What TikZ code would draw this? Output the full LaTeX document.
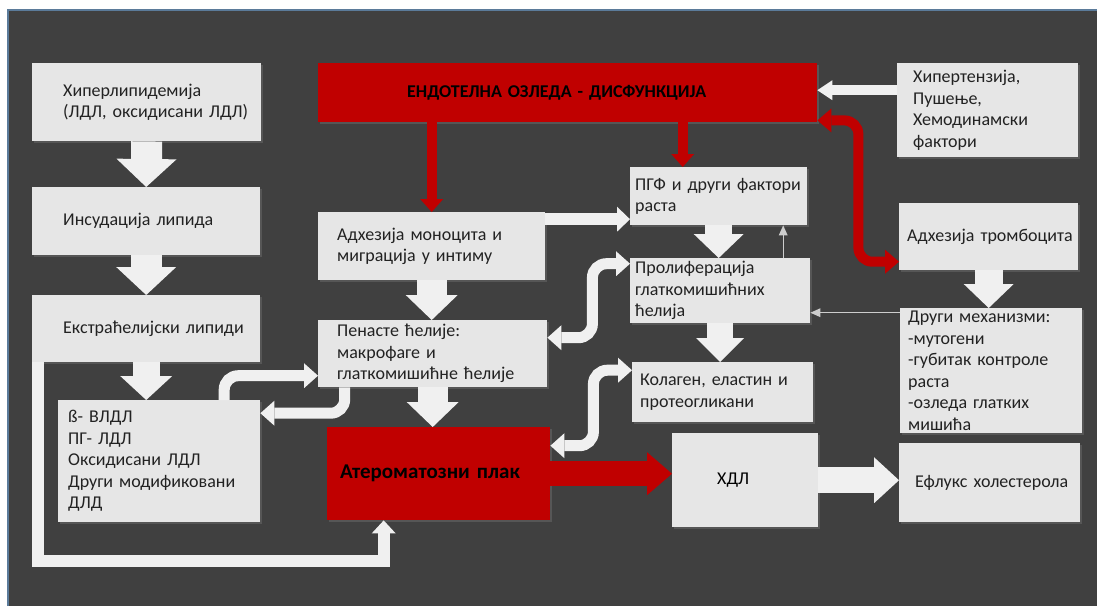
\documentclass[tikz,border=0pt]{standalone}
\usepackage{fontspec}
\setmainfont{Carlito}
\usetikzlibrary{arrows.meta,shadows}

\definecolor{panelgray}{HTML}{404040}
\definecolor{boxgray}{HTML}{E6E6E6}
\definecolor{plaquered}{HTML}{C00000}
\definecolor{pipewhite}{HTML}{F0F0F0}
\definecolor{inkgray}{HTML}{222222}
\definecolor{rimblue}{HTML}{5B7B9A}

\tikzset{
  box/.style={fill=boxgray, text=inkgray, anchor=north west, inner xsep=0pt, inner ysep=0pt,
    align=left, font=\fontsize{18}{21.5}\selectfont,
    drop shadow={shadow xshift=2pt, shadow yshift=-2pt, opacity=.35}},
  redbox/.style={box, fill=plaquered, text=black, font=\fontsize{18}{21.5}\selectfont\bfseries},
  lpad/.style={execute at begin node={\leftskip=#1pt\relax}},
  shaft/.style n args={3}{line width=#1pt, -{Triangle[width=#2pt,length=#3pt,line width=0pt]}},
  twoshaft/.style n args={3}{line width=#1pt,
    {Triangle[width=#2pt,length=#3pt,line width=0pt]}-{Triangle[width=#2pt,length=#3pt,line width=0pt]}},
  pipe/.style={draw=pipewhite, rounded corners=14pt},
  feedback/.style={draw=boxgray!85!panelgray, line width=1.3pt,
    -{Triangle[width=9pt,length=10pt,line width=0pt]}},
}

\begin{document}
\begin{tikzpicture}[x=1pt, y=-1pt]
  \useasboundingbox (0,0) rectangle (1097,606);

  % Panel
  \fill[white] (0,0) rectangle (1097,606);
  \fill[panelgray] (8,10) rectangle (1097,606);
  \draw[rimblue, line width=1.5pt] (8,606) -- (8,10) -- (1097,10);

  % Left column
  \node[box, lpad=31, text width=229pt, minimum height=78pt] (hyper) at (32,63)
    {Хиперлипидемија\\(ЛДЛ, оксидисани ЛДЛ)};
  \node[box, lpad=31, text width=228pt, minimum height=68pt] (insud) at (32,187)
    {Инсудација липида};
  \node[box, lpad=31, text width=228pt, minimum height=67pt] (ekstra) at (32,295)
    {Екстраћелијски липиди};
  \node[box, lpad=10, text width=202pt, minimum height=122pt] (vldl) at (58,400)
    {ß- ВЛДЛ\\ПГ- ЛДЛ\\Оксидисани ЛДЛ\\Други модификовани\\ДЛД};

  % Middle
  \node[redbox, lpad=89, text width=499pt, minimum height=59pt] (endo) at (318,63)
    {ЕНДОТЕЛНА ОЗЛЕДА - ДИСФУНКЦИЈА};
  \node[box, lpad=19, text width=227pt, minimum height=68pt] (adhez) at (318,212)
    {Адхезија моноцита и\\миграција у интиму};
  \node[box, lpad=19, text width=229pt, minimum height=67pt] (penaste) at (318,320)
    {Пенасте ћелије:\\макрофаге и\\глаткомишићне ћелије};
  \node[redbox, lpad=13, text width=223pt, minimum height=93pt,
    font=\fontsize{21}{25}\selectfont\bfseries] (atero) at (327,427)
    {Атероматозни плак};
  \node[box, lpad=5, text width=177pt, minimum height=58pt] (pgf) at (630,167)
    {ПГФ и други фактори\\раста};
  \node[box, lpad=5, text width=180pt, minimum height=65pt] (prolif) at (630,258)
    {Пролиферација\\глаткомишићних\\ћелија};
  \node[box, lpad=8, text width=181pt, minimum height=60pt] (kolagen) at (632,362)
    {Колаген, еластин и\\протеогликани};
  \node[box, lpad=45, text width=146pt, minimum height=94pt, text=black] (hdl) at (672,433)
    {ХДЛ};

  % Right column
  \node[box, lpad=16, text width=181pt, minimum height=94pt] (hipert) at (897,63)
    {Хипертензија,\\Пушење,\\Хемодинамски\\фактори};
  \node[box, lpad=8, text width=179pt, minimum height=67pt] (tromb) at (899,203)
    {Адхезија тромбоцита};
  \node[box, lpad=8, text width=182pt, minimum height=125pt] (drugi) at (900,308)
    {Други механизми:\\-мутогени\\-губитак контроле\\раста\\-озледа глатких\\мишића};
  \node[box, lpad=16, text width=181pt, minimum height=79pt] (eflux) at (899,443)
    {Ефлукс холестерола};

  % Wide arrows down
  \draw[draw=pipewhite, shaft={31}{60}{28}] (hyper.south) -- (insud.north);
  \draw[draw=pipewhite, shaft={31}{60}{28}] (insud.south) -- (ekstra.north);
  \draw[draw=pipewhite, shaft={27}{52}{24}] (ekstra.south) -- (ekstra.south |- vldl.north);
  \draw[draw=pipewhite, shaft={30}{52}{25}] (adhez.south) -- (adhez.south |- penaste.north);
  \draw[draw=pipewhite, shaft={30}{52}{25}] (penaste.south) -- (penaste.south |- atero.north);
  \draw[draw=pipewhite, shaft={27}{50}{24}] (pgf.south) -- (pgf.south |- prolif.north);
  \draw[draw=pipewhite, shaft={26}{48}{24}] (prolif.south) -- (prolif.south |- kolagen.north);
  \draw[draw=pipewhite, shaft={28}{50}{24}] (tromb.south) -- (tromb.south |- drugi.north);

  % Endothelial injury
  \draw[draw=plaquered, shaft={10}{23}{13}] (adhez.north |- endo.south) -- (adhez.north);
  \draw[draw=plaquered, shaft={10}{23}{13}] ([xshift=-36pt]pgf.north |- endo.south)
    -- ([xshift=-36pt]pgf.north);
  \draw[draw=pipewhite, shaft={10}{20}{15}] ([yshift=20pt]hipert.west)
    -- ([yshift=20pt]hipert.west -| endo.east);
  \draw[draw=plaquered, twoshaft={10}{24}{14}, rounded corners=14pt] ([yshift=2pt]endo.south east)
    -- ++(41,0) |- ([yshift=-25pt]tromb.west);

  % Horizontal links
  \draw[draw=pipewhite, shaft={12}{25}{13}] ([yshift=27pt]adhez.east)
    -- ([yshift=27pt]adhez.east -| pgf.west);
  \draw[draw=plaquered, shaft={25}{43}{25}] (atero.east) -- (atero.east -| hdl.west);
  \draw[draw=pipewhite, shaft={26}{46}{25}] (hdl.east) -- (hdl.east -| eflux.west);

  % Bent links
  \draw[pipe, twoshaft={11}{25}{14}] ([yshift=16pt]penaste.east) -- ++(45,0)
    |- ([yshift=27pt]prolif.west);
  \draw[pipe, twoshaft={11}{25}{14}] ([yshift=28pt]atero.east) -- ++(43,0)
    |- ([yshift=22pt]kolagen.west);
  \draw[pipe, shaft={11}{25}{14}] ([xshift=65pt]vldl.north) |- ([yshift=-22pt]penaste.west);
  \draw[pipe, shaft={11}{25}{14}] ([xshift=-88pt]penaste.south) |- ([yshift=48pt]vldl.east);
  \draw[draw=pipewhite, shaft={12}{24}{13}] ([xshift=6pt]ekstra.south west)
    |- ([xshift=-55pt,yshift=-41pt]atero.south) [rounded corners=14pt]
    -- ([xshift=-55pt]atero.south);

  % Thin links
  \draw[feedback] ([xshift=63pt]prolif.north) -- ([xshift=63pt]prolif.north |- pgf.south);
  \draw[feedback] ([yshift=58pt]drugi.west) -- ([yshift=58pt]drugi.west -| prolif.east);
\end{tikzpicture}
\end{document}
